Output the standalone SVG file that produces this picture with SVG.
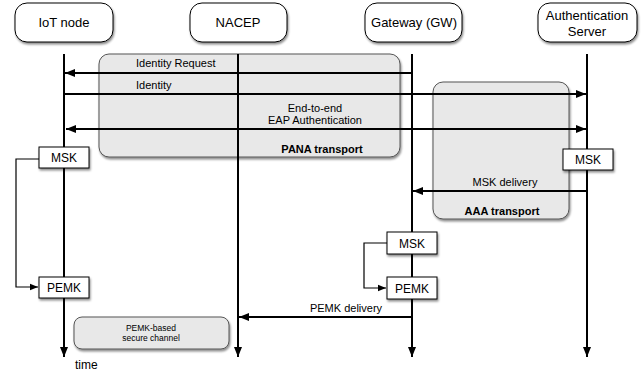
<svg xmlns="http://www.w3.org/2000/svg" width="641" height="373" viewBox="0 0 641 373">
<defs>
<filter id="sh" x="-10%" y="-10%" width="130%" height="140%">
<feDropShadow dx="1" dy="2" stdDeviation="1.3" flood-color="#000" flood-opacity="0.45"/>
</filter>
<marker id="ah" viewBox="0 0 10 10" refX="10" refY="5" markerWidth="10" markerHeight="10" markerUnits="userSpaceOnUse" orient="auto-start-reverse">
<path d="M0,1 L10,5 L0,9 Z" fill="#000"/>
</marker>
<marker id="ahs" viewBox="0 0 10 10" refX="10" refY="5" markerWidth="8" markerHeight="8" markerUnits="userSpaceOnUse" orient="auto">
<path d="M0,1 L10,5 L0,9 Z" fill="#000"/>
</marker>
</defs>
<style>
text{font-family:"Liberation Sans",Arial,sans-serif;fill:#000}
.hdr{fill:#fff;stroke:#000;stroke-width:1;filter:url(#sh)}
.ht{font-size:13px;text-anchor:middle}
.grp{fill:#e8e8e8;stroke:#555;stroke-width:1;filter:url(#sh)}
.key{fill:#fff;stroke:#000;stroke-width:1;filter:url(#sh)}
.kt{font-size:12px;text-anchor:middle}
.life{stroke:#000;stroke-width:2;fill:none}
.msg{stroke:#000;stroke-width:2;fill:none}
.thin{stroke:#000;stroke-width:1.2;fill:none}
.lbl{font-size:11px}
.bold{font-size:11px;font-weight:bold;text-anchor:middle}
</style>
<rect width="641" height="373" fill="#fff"/>

<g id="pana-transport">
<rect class="grp" x="99" y="54" width="301" height="103" rx="10"/>
<text class="bold" x="322" y="153">PANA transport</text>
</g>
<g id="aaa-transport">
<rect class="grp" x="433" y="82" width="136" height="137" rx="10"/>
<text class="bold" x="502" y="215">AAA transport</text>
</g>
<g id="secure-channel">
<rect class="grp" x="74" y="317" width="155" height="32" rx="8"/>
<text x="151" y="331" font-size="8.5" text-anchor="middle">PEMK-based</text>
<text x="151" y="341" font-size="8.5" text-anchor="middle">secure channel</text>
</g>

<g id="connectors">
<line class="life" x1="64" y1="54" x2="64" y2="357" marker-end="url(#ah)"/>
<line class="life" x1="238" y1="54" x2="238" y2="357" marker-end="url(#ah)"/>
<line class="life" x1="412" y1="54" x2="412" y2="357" marker-end="url(#ah)"/>
<line class="life" x1="587" y1="54" x2="587" y2="357" marker-end="url(#ah)"/>
<line class="msg" x1="412" y1="73" x2="65" y2="73" marker-end="url(#ah)"/>
<line class="msg" x1="64" y1="94" x2="586" y2="94" marker-end="url(#ah)"/>
<line class="msg" x1="66" y1="129" x2="586" y2="129" marker-start="url(#ah)" marker-end="url(#ah)"/>
<line class="msg" x1="587" y1="191" x2="413" y2="191" marker-end="url(#ah)"/>
<line class="msg" x1="412" y1="317" x2="239" y2="317" marker-end="url(#ah)"/>
<polyline class="thin" points="39,159 16,159 16,287 38,287" marker-end="url(#ahs)"/>
<polyline class="thin" points="387,243 364,243 364,288 386,288" marker-end="url(#ahs)"/>
<text class="lbl" x="136" y="67">Identity Request</text>
<text class="lbl" x="136" y="89">Identity</text>
<text class="lbl" x="315" y="112" text-anchor="middle">End-to-end</text>
<text class="lbl" x="315" y="124" text-anchor="middle">EAP Authentication</text>
<text class="lbl" x="505" y="186" text-anchor="middle">MSK delivery</text>
<text class="lbl" x="346" y="312" text-anchor="middle">PEMK delivery</text>
<text x="75" y="369" font-size="12">time</text>
</g>

<g id="iot-node">
<rect class="hdr" x="15" y="3" width="98" height="39" rx="12"/>
<text class="ht" x="64" y="27">IoT node</text>
</g>
<g id="nacep">
<rect class="hdr" x="190" y="3" width="97" height="39" rx="12"/>
<text class="ht" x="238" y="27">NACEP</text>
</g>
<g id="gateway">
<rect class="hdr" x="365" y="3" width="97" height="39" rx="12"/>
<text class="ht" x="414" y="27">Gateway (GW)</text>
</g>
<g id="auth-server">
<rect class="hdr" x="538" y="3" width="99" height="39" rx="12"/>
<text class="ht" x="587" y="20">Authentication</text>
<text class="ht" x="587" y="36">Server</text>
</g>

<g id="iot-msk">
<rect class="key" x="39" y="147" width="50" height="21"/>
<text class="kt" x="64" y="162">MSK</text>
</g>
<g id="iot-pemk">
<rect class="key" x="39" y="277" width="50" height="21"/>
<text class="kt" x="64" y="292">PEMK</text>
</g>
<g id="as-msk">
<rect class="key" x="563" y="149" width="50" height="21"/>
<text class="kt" x="588" y="164">MSK</text>
</g>
<g id="gw-msk">
<rect class="key" x="387" y="232" width="50" height="22"/>
<text class="kt" x="412" y="248">MSK</text>
</g>
<g id="gw-pemk">
<rect class="key" x="387" y="277" width="50" height="22"/>
<text class="kt" x="412" y="293">PEMK</text>
</g>
</svg>
